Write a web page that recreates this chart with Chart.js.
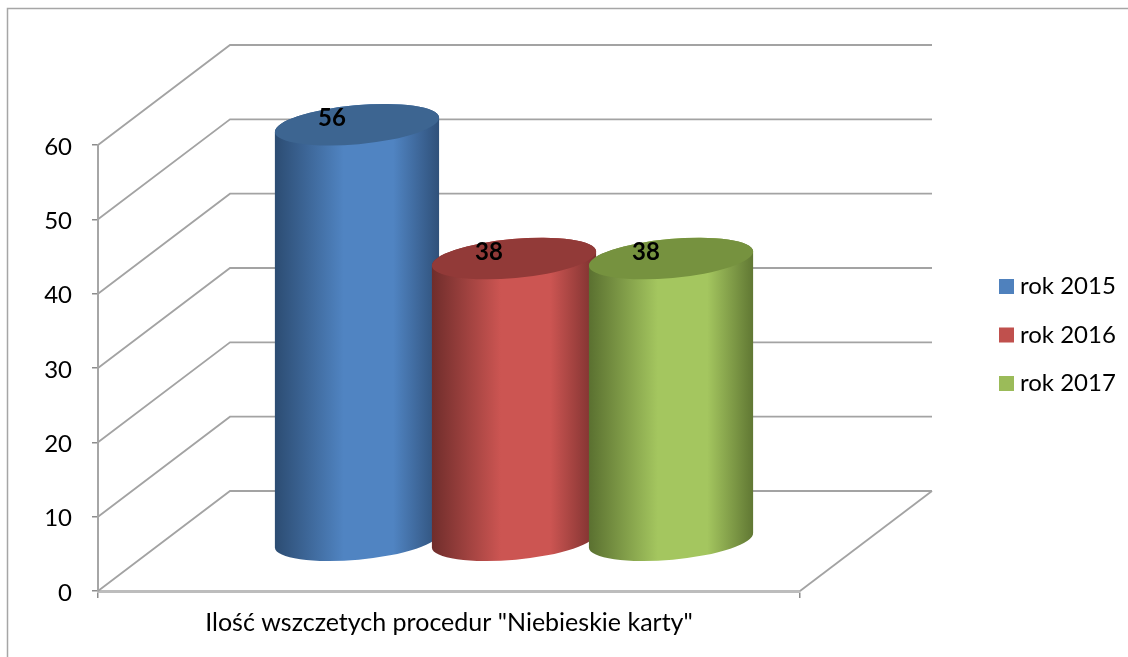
<!DOCTYPE html>
<html>
<head>
<meta charset="utf-8">
<title>Niebieskie karty</title>
<script src="https://cdn.jsdelivr.net/npm/chart.js@4"></script>
<style>
  html, body { margin: 0; padding: 0; background: #fff; }
  canvas { display: block; }
</style>
</head>
<body>
<canvas id="chart" width="1128" height="657"></canvas>
<script>
const categories = ['Ilość wszczetych procedur "Niebieskie karty"'];
const seriesNames = ['rok 2015', 'rok 2016', 'rok 2017'];
const values2015 = [56];
const values2016 = [38];
const values2017 = [38];
const seriesColors = ['#4f81bd', '#c0504d', '#9bbb59'];

// [krawedz lewa, srodek, krawedz prawa, wieczko]
const shades = [
  ['#2c4c72', '#5084c2', '#2f5079', '#3d6591'],
  ['#6f2d2b', '#cc5552', '#7a302e', '#923a38'],
  ['#5a7030', '#a4c65f', '#607733', '#76923f']
];

const DEPTH_X = 132, DEPTH_Y = -100;
const FONT = 'Lato, Carlito, sans-serif';
const GRID = '#a3a3a3';

// sciany wykresu (siatka w perspektywie) i ramka
const wallsPlugin = {
  id: 'walls',
  beforeDraw(chart) {
    const ctx = chart.ctx;
    ctx.save();
    ctx.strokeStyle = '#a6a6a6';
    ctx.lineWidth = 1.5;
    ctx.beginPath();
    ctx.moveTo(7.5, 657);
    ctx.lineTo(7.5, 8.5);
    ctx.lineTo(1128, 8.5);
    ctx.stroke();
    ctx.restore();
  },
  beforeDatasetsDraw(chart) {
    const ctx = chart.ctx;
    const { left, right } = chart.chartArea;
    const yScale = chart.scales.y;
    ctx.save();
    ctx.strokeStyle = GRID;
    ctx.lineWidth = 1.8;
    yScale.ticks.forEach(t => {
      const y = yScale.getPixelForValue(t.value);
      ctx.beginPath();
      ctx.moveTo(left, y);
      ctx.lineTo(left + DEPTH_X, y + DEPTH_Y);
      ctx.lineTo(right + DEPTH_X, y + DEPTH_Y);
      ctx.stroke();
    });
    const y0 = yScale.getPixelForValue(0);
    ctx.beginPath();
    ctx.moveTo(right, y0);
    ctx.lineTo(right + DEPTH_X, y0 + DEPTH_Y);
    ctx.stroke();
    ctx.restore();
  }
};

// slupki jako walce 3D, pozycje z elementow Chart.js
const cylinderPlugin = {
  id: 'cylinders',
  beforeDatasetsDraw(chart) {
    const ctx = chart.ctx;
    const rot = -0.09, ry = 19.5;
    chart.data.datasets.forEach((ds, i) => {
      chart.getDatasetMeta(i).data.forEach(bar => {
        const cx = bar.x + DEPTH_X / 2 - 1;
        const top = bar.y + DEPTH_Y / 2;
        const bottom = bar.base + DEPTH_Y / 2;
        const rx = bar.width / 2;
        const s = shades[i];
        const grad = ctx.createLinearGradient(cx - rx, 0, cx + rx, 0);
        grad.addColorStop(0, s[0]);
        grad.addColorStop(0.42, s[1]);
        grad.addColorStop(0.72, s[1]);
        grad.addColorStop(1, s[2]);
        ctx.save();
        ctx.beginPath();
        ctx.ellipse(cx, bottom, rx, ry, rot, 0, Math.PI);
        ctx.ellipse(cx, top, rx, ry, rot, Math.PI, 0);
        ctx.closePath();
        ctx.fillStyle = grad;
        ctx.fill();
        ctx.beginPath();
        ctx.ellipse(cx, top, rx, ry, rot, 0, Math.PI * 2);
        ctx.fillStyle = s[3];
        ctx.fill();
        ctx.restore();
      });
    });
  },
  beforeDatasetDraw() {
    return false; // zwykle prostokaty nie sa rysowane
  },
  afterDatasetsDraw(chart) {
    const ctx = chart.ctx;
    ctx.save();
    ctx.fillStyle = '#000';
    ctx.font = 'bold 24px ' + FONT;
    ctx.textAlign = 'center';
    ctx.textBaseline = 'middle';
    chart.data.datasets.forEach((ds, i) => {
      chart.getDatasetMeta(i).data.forEach((bar, j) => {
        ctx.fillText(ds.data[j], bar.x + DEPTH_X / 2 - 26, bar.y + DEPTH_Y / 2 - 6);
      });
    });
    ctx.restore();
  }
};

// legenda po prawej, odstep kwadrat-tekst mniejszy niz w wbudowanej
const legendPlugin = {
  id: 'sideLegend',
  afterDraw(chart) {
    const ctx = chart.ctx;
    ctx.save();
    ctx.font = '24px ' + FONT;
    ctx.textBaseline = 'middle';
    chart.data.datasets.forEach((ds, i) => {
      const yMid = 286.5 + i * 48.5;
      ctx.fillStyle = ds.backgroundColor;
      ctx.fillRect(999, yMid - 7.5, 15, 15);
      ctx.fillStyle = '#000';
      ctx.fillText(ds.label, 1020, yMid);
    });
    ctx.restore();
  }
};

new Chart(document.getElementById('chart'), {
  type: 'bar',
  data: {
    labels: categories,
    datasets: [
      { label: seriesNames[0], data: values2015, backgroundColor: seriesColors[0] },
      { label: seriesNames[1], data: values2016, backgroundColor: seriesColors[1] },
      { label: seriesNames[2], data: values2017, backgroundColor: seriesColors[2] }
    ]
  },
  options: {
    responsive: false,
    animation: false,
    categoryPercentage: 0.671,
    barPercentage: 1.05,
    layout: { padding: { top: 145, right: 328, left: 0, bottom: 0 } },
    plugins: {
      title: { display: false },
      tooltip: { enabled: false },
      legend: { display: false }
    },
    scales: {
      x: {
        afterFit: s => { s.height = 66; },
        grid: { drawOnChartArea: false, color: '#8c8c8c', tickLength: 7, lineWidth: 1.5 },
        border: { color: '#bdbdbd', width: 3 },
        ticks: { color: '#000', padding: 10, maxRotation: 0, font: { family: FONT, size: 25 } }
      },
      y: {
        min: 0,
        max: 60,
        afterFit: s => { s.width = 98; },
        grid: { drawOnChartArea: false, color: '#8c8c8c', tickLength: 6, lineWidth: 1.5 },
        border: { color: '#a6a6a6', width: 2 },
        ticks: { stepSize: 10, color: '#000', padding: 20, labelOffset: 2, font: { family: FONT, size: 24 } }
      }
    }
  },
  plugins: [wallsPlugin, cylinderPlugin, legendPlugin]
});
</script>
</body>
</html>
